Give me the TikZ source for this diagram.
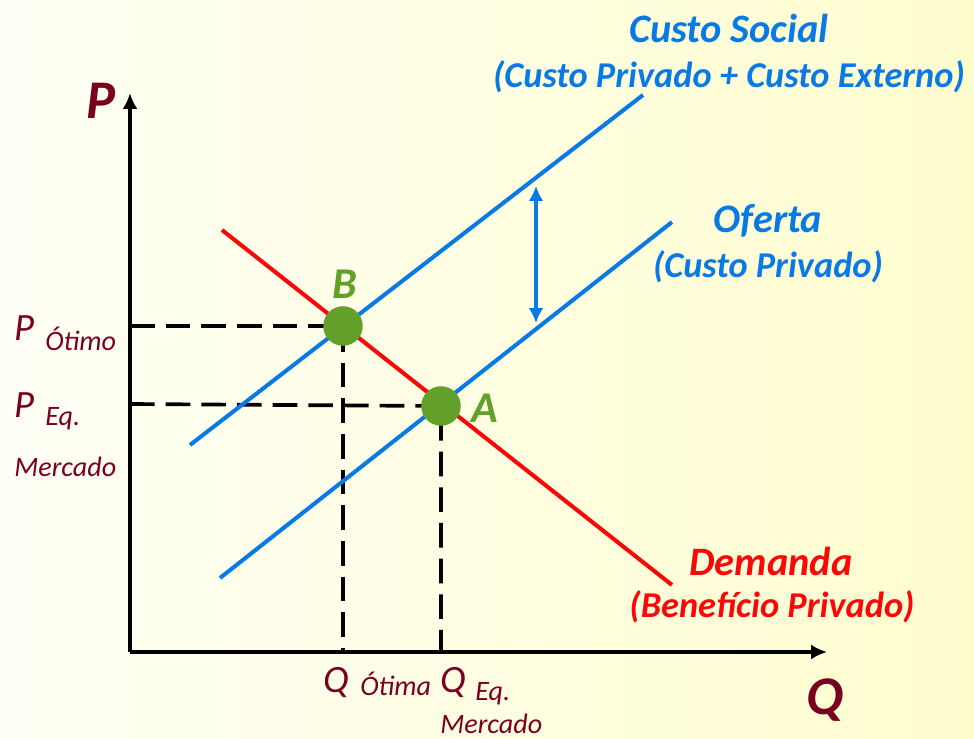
\documentclass[tikz,border=0pt]{standalone}
\usepackage{fontspec}
\setmainfont{Carlito}
\usetikzlibrary{arrows.meta,calc}
\definecolor{costblue}{RGB}{8,122,230}
\definecolor{demandred}{RGB}{250,8,8}
\definecolor{dotgreen}{RGB}{98,160,42}
\definecolor{labelred}{RGB}{122,0,32}
\definecolor{bgleft}{RGB}{255,255,246}
\definecolor{bgright}{RGB}{255,253,206}
\tikzstyle{axis} = [draw, line width=2.3pt, -{Latex[length=9pt,width=8.5pt]}]
\tikzstyle{curve} = [draw, line width=2.3pt]
\tikzstyle{guide} = [draw, line width=2.1pt, dash pattern=on 14pt off 6.3pt]
\tikzstyle{dot} = [circle, fill=dotgreen, minimum size=22.5pt, inner sep=0pt]
\tikzstyle{title} = [anchor=base, font=\bfseries\itshape\fontsize{23}{27}\selectfont]
\tikzstyle{subtitle} = [anchor=base, font=\bfseries\itshape\fontsize{20.7}{25}\selectfont]
\tikzstyle{axislabel} = [anchor=base west, text=labelred, font=\bfseries\itshape\fontsize{31}{36}\selectfont]
\tikzstyle{tick} = [anchor=base west, inner sep=0pt, text=labelred, font=\itshape\fontsize{22}{26}\selectfont]
\tikzstyle{small} = [anchor=base west, inner sep=0pt, text=labelred, font=\itshape\fontsize{16}{19}\selectfont]
\tikzstyle{pointlabel} = [anchor=base west, inner sep=0pt, text=dotgreen, font=\bfseries\itshape\fontsize{25}{30}\selectfont]

\begin{document}
\begin{tikzpicture}[x=0.02cm, y=-0.02cm]
        % background
        \shade[left color=bgleft, right color=bgright] (0,0) rectangle (974,738);
        \useasboundingbox (0,0) rectangle (974,738);

        % axes
        \coordinate (origin) at (130,652);
        \coordinate (ptop) at (130,93);
        \coordinate (qend) at (827,652);
        \path[axis] (origin) -- (ptop);
        \path[axis] (origin) -- (qend);
        \node[axislabel, inner sep=0pt] (plabel) at (86,118) {P};
        \node[axislabel, inner sep=0pt] (qlabel) at (806,714) {Q};

        % curve ends
        \coordinate (cs1) at (190,445);
        \coordinate (cs2) at (643,95);
        \coordinate (of1) at (220,578);
        \coordinate (of2) at (672,222);
        \coordinate (dm1) at (222,230);
        \coordinate (dm2) at (672,585);

        % equilibrium points
        \coordinate (bpos) at (343,326);
        \coordinate (apos) at (441,406);
        \coordinate (pb) at (130,326);
        \coordinate (pa) at (130,404);
        \coordinate (qb) at (343,652);
        \coordinate (qa) at (441,652);
        \path[guide] (pb) -- (bpos) -- (qb);
        \path[guide] (pa) -- (apos) -- (qa);

        \path[curve, costblue] (cs1) -- (cs2);
        \path[curve, costblue] (of1) -- (of2);
        \path[curve, demandred] (dm1) -- (dm2);

        \node[dot] (b) at (bpos) {};
        \node[dot] (a) at (apos) {};
        \node[pointlabel] (blabel) at (332,298) {B};
        \node[pointlabel] (alabel) at (471,422) {A};

        % gap between the costs
        \coordinate (gaptop) at (536,186);
        \coordinate (gapbot) at (536,323);
        \path[draw, costblue, line width=1.8pt, {Latex[length=8.5pt,width=8.5pt]}-{Latex[length=8.5pt,width=8.5pt]}] (gaptop) -- (gapbot);

        % curve labels
        \node[title, text=costblue] (social) at (729,42) {Custo Social};
        \node[subtitle, text=costblue] (socialsub) at (729,87) {(Custo Privado + Custo Externo)};
        \node[title, text=costblue] (oferta) at (768,232) {Oferta};
        \node[subtitle, text=costblue] (ofertasub) at (768,277) {(Custo Privado)};
        \node[title, text=demandred] (demanda) at (771,575) {Demanda};
        \node[subtitle, text=demandred] (demandasub) at (772,617) {(Benefício Privado)};

        % price and quantity labels
        \node[tick] (potimo) at (14,340) {P};
        \node[small] (potimosub) at (45,350) {Ótimo};
        \node[tick] (peq) at (14,417) {P};
        \node[small] (peqsub) at (45,425) {Eq.};
        \node[small] (peqmerc) at (14,476) {Mercado};
        \node[tick] (qotima) at (323,692) {Q};
        \node[small] (qotimasub) at (360,695) {Ótima};
        \node[tick] (qeq) at (440,692) {Q};
        \node[small] (qeqsub) at (475,700) {Eq.};
        \node[small] (qeqmerc) at (440,733) {Mercado};
    \end{tikzpicture}
\end{document}
